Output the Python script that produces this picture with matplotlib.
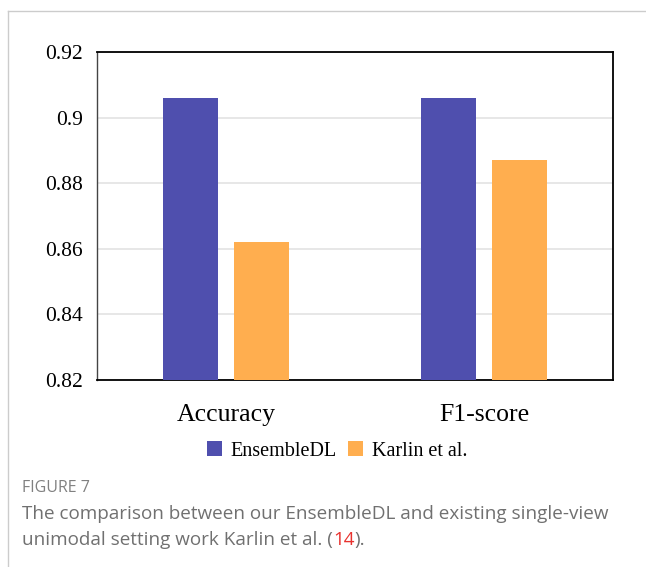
import matplotlib
matplotlib.use("Agg")
import matplotlib.pyplot as plt
import numpy as np
from matplotlib.patches import Patch
from matplotlib.lines import Line2D

# data
categories = ["Accuracy", "F1-score"]
ensemble_dl = [0.906, 0.906]
karlin = [0.862, 0.887]
series_names = ["EnsembleDL", "Karlin et al."]
yticks = [0.82, 0.84, 0.86, 0.88, 0.9, 0.92]
ytick_labels = ["0.82", "0.84", "0.86", "0.88", "0.9", "0.92"]

col_ens = "#4f4fae"
col_kar = "#ffae4f"
serif = "Liberation Serif"

fig = plt.figure(figsize=(6.46, 5.67), dpi=100)
W, H = 646.0, 567.0

# card border (light gray, top and left)
fig.add_artist(Line2D([8/W, 1.0], [1-11/H, 1-11/H], color="#cccccc", lw=1.0))
fig.add_artist(Line2D([8/W, 8/W], [0.0, 1-11/H], color="#cccccc", lw=1.0))

ax = fig.add_axes([97/W, 1-380/H, (613-97)/W, (380-52)/H])
x = np.arange(len(categories))
bw = 0.213
off = 0.136
ax.bar(x - off, ensemble_dl, bw, color=col_ens, zorder=3, bottom=0)
ax.bar(x + off, karlin, bw, color=col_kar, zorder=3, bottom=0)

ax.set_xlim(-0.5, 1.5)
ax.set_ylim(0.82, 0.92)
ax.set_yticks(yticks)
ax.set_yticklabels(ytick_labels, fontsize=15.5, family=serif)
ax.set_xticks(x)
ax.set_xticklabels(categories, fontsize=18.5, family=serif)
ax.tick_params(axis="both", length=0)
ax.tick_params(axis="y", pad=10)
ax.tick_params(axis="x", pad=17)
ax.yaxis.grid(True, color="#e3e3e3", lw=1.2, zorder=0)
for s in ["top", "bottom", "right"]:
    ax.spines[s].set_color("black")
    ax.spines[s].set_linewidth(1.3)
ax.spines["left"].set_color("#444444")
ax.spines["left"].set_linewidth(1.0)

handles = [Patch(facecolor=col_ens, edgecolor="none"), Patch(facecolor=col_kar, edgecolor="none")]
fig.legend(handles, series_names, loc="center", bbox_to_anchor=(337/W, 1-451/H),
           ncol=2, frameon=False, prop={"family": serif, "size": 14.5},
           handlelength=0.75, handleheight=0.75, handletextpad=0.4, columnspacing=0.6)

# caption
cap = ["Open Sans", "DejaVu Sans"]
fig.text(22/W, 1-488/H, "FIGURE 7", fontsize=11.5, color="#808080", family=cap, va="center")
fig.text(22/W, 1-514/H, "The comparison between our EnsembleDL and existing single-view",
         fontsize=13.6, color="#707070", family=cap, va="center")
t1 = fig.text(22/W, 1-540/H, "unimodal setting work Karlin et al. (", fontsize=13.6,
              color="#707070", family=cap, va="center")
t2 = fig.text(0, 0, "14", fontsize=13.6, color="#e8322e", family=cap, va="center")
t3 = fig.text(0, 0, ").", fontsize=13.6, color="#707070", family=cap, va="center")

fig.canvas.draw()
r = fig.canvas.get_renderer()
bb1 = t1.get_window_extent(r)
t2.set_position((bb1.x1 / fig.bbox.width, 1-540/H))
fig.canvas.draw()
bb2 = t2.get_window_extent(r)
t3.set_position((bb2.x1 / fig.bbox.width, 1-540/H))

fig.savefig("out.png", dpi=100)
